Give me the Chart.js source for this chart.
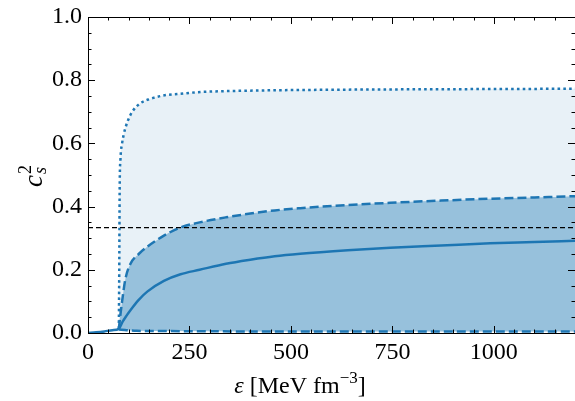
<!DOCTYPE html>
<html>
<head>
<meta charset="utf-8">
<script src="https://cdn.jsdelivr.net/npm/chart.js@4.4.0/dist/chart.umd.min.js"></script>
<style>
  html, body { margin: 0; padding: 0; background: #fff; }
  #wrap { width: 575px; height: 401px; position: relative; }
</style>
</head>
<body>
<div id="wrap"><canvas id="chart"></canvas></div>
<script>
// energy density grid (MeV fm^-3) and squared sound speed for each band edge
const epsMedian = [0, 20, 40, 60, 76, 85, 95, 105, 125, 146, 187, 228, 275, 340, 400, 460, 523, 640, 745, 870, 991, 1100, 1200];
const cs2Median = [0, 0.002, 0.005, 0.009, 0.013, 0.035, 0.055, 0.073, 0.105, 0.131, 0.165, 0.186, 0.2, 0.219, 0.232, 0.243, 0.251, 0.262, 0.27, 0.277, 0.284, 0.288, 0.292];

const epsUpper = [76, 80, 84, 92, 105, 125, 146, 187, 228, 275, 340, 400, 460, 523, 640, 745, 870, 991, 1100, 1200];
const cs2Upper = [0.013, 0.06, 0.1, 0.17, 0.22, 0.25, 0.273, 0.308, 0.334, 0.35, 0.366, 0.378, 0.388, 0.395, 0.405, 0.412, 0.419, 0.425, 0.429, 0.433];

const epsLower = [76, 120, 200, 400, 600, 800, 1000, 1200];
const cs2Lower = [0.011, 0.007, 0.006, 0.005, 0.005, 0.005, 0.005, 0.005];

const epsMax = [76, 77, 78, 80, 84, 88, 92, 97, 109, 129, 154, 183, 228, 270, 400, 523, 770, 1000, 1200];
const cs2Max = [0.013, 0.2, 0.45, 0.55, 0.6, 0.628, 0.648, 0.668, 0.7, 0.727, 0.741, 0.751, 0.757, 0.762, 0.767, 0.769, 0.771, 0.772, 0.773];

const epsConformal = [0, 1200];
const cs2Conformal = [1 / 3, 1 / 3];

const xTicks = [0, 250, 500, 750, 1000];
const yTicks = [0, 0.2, 0.4, 0.6, 0.8, 1.0];

const blue = '#1f77b4';
const serif = '"Liberation Serif", "Times New Roman", serif';

const pts = (xs, ys) => xs.map((x, i) => ({ x: x, y: ys[i] }));

// inward ticks on all four sides, frame, and the math-style axis titles
const axesDecor = {
  id: 'axesDecor',
  afterDraw(chart) {
    const c = chart.ctx, a = chart.chartArea;
    const xs = chart.scales.x, ys = chart.scales.y;
    c.save();
    c.strokeStyle = '#000';
    c.lineWidth = 1;
    c.strokeRect(a.left + 0.5, a.top + 0.5, a.right - a.left, a.bottom - a.top);

    const tick = (x1, y1, x2, y2, w) => {
      c.lineWidth = w;
      c.beginPath(); c.moveTo(x1, y1); c.lineTo(x2, y2); c.stroke();
    };
    for (let v = 0; v <= 1200; v += 50) {
      const px = Math.round(xs.getPixelForValue(v)) + 0.5;
      const len = v % 250 === 0 ? 7 : 3.5;
      tick(px, a.bottom, px, a.bottom - len, 1);
      tick(px, a.top, px, a.top + len, 1);
    }
    for (let k = 0; k <= 20; k++) {
      const v = k * 0.05;
      const py = Math.round(ys.getPixelForValue(v)) + 0.5;
      const len = k % 4 === 0 ? 7 : 3.5;
      tick(a.left, py, a.left + len, py, 1);
      tick(a.right, py, a.right - len, py, 1);
    }

    // x title: ε [MeV fm^-3]
    c.fillStyle = '#000';
    c.textBaseline = 'alphabetic';
    const base = 393;
    const parts = [
      { t: 'ε', f: 'italic 24px ' + serif, dy: 0 },
      { t: ' [MeV fm', f: '24px ' + serif, dy: 0 },
      { t: '−3', f: '17px ' + serif, dy: -10 },
      { t: ']', f: '24px ' + serif, dy: 0 }
    ];
    let total = 0;
    parts.forEach(p => { c.font = p.f; p.w = c.measureText(p.t).width; total += p.w; });
    let x = 300 - total / 2;
    parts.forEach(p => { c.font = p.f; c.fillText(p.t, x, base + p.dy); x += p.w; });

    // y title: c_s^2, rotated
    c.translate(42, 187);
    c.rotate(-Math.PI / 2);
    c.font = 'italic 27px ' + serif;
    const cw = c.measureText('c').width;
    c.fillText('c', 0, 0);
    c.font = '18px ' + serif;
    c.fillText('2', cw + 1, -11);
    c.font = 'italic 18px ' + serif;
    c.fillText('s', cw + 1, 4);
    c.restore();
  }
};

const ctx = document.getElementById('chart').getContext('2d');
new Chart(ctx, {
  type: 'line',
  data: {
    datasets: [
      {
        label: 'lower',
        data: pts(epsLower, cs2Lower),
        borderColor: blue,
        borderWidth: 2.5,
        borderDash: [9, 4],
        fill: false
      },
      {
        label: 'max',
        data: pts(epsMax, cs2Max),
        borderColor: blue,
        borderWidth: 2.5,
        borderDash: [2.6, 3.2],
        backgroundColor: 'rgba(31,119,180,0.1)',
        fill: 0
      },
      {
        label: 'upper',
        data: pts(epsUpper, cs2Upper),
        borderColor: blue,
        borderWidth: 2.5,
        borderDash: [9, 4],
        backgroundColor: 'rgba(31,119,180,0.4)',
        fill: 0
      },
      {
        label: 'median',
        data: pts(epsMedian, cs2Median),
        borderColor: blue,
        borderWidth: 2.5,
        fill: false
      },
      {
        label: 'conformal',
        data: pts(epsConformal, cs2Conformal),
        borderColor: '#000',
        borderWidth: 1.2,
        borderDash: [5, 3],
        fill: false,
        order: -1
      }
    ]
  },
  options: {
    responsive: true,
    maintainAspectRatio: false,
    animation: false,
    layout: { padding: { top: 0, right: 0, left: 0, bottom: 0 } },
    elements: {
      point: { radius: 0 },
      line: { cubicInterpolationMode: 'monotone' }
    },
    plugins: {
      legend: { display: false },
      tooltip: { enabled: false }
    },
    scales: {
      x: {
        type: 'linear',
        min: 0,
        max: 1200,
        grid: { display: false, drawTicks: false },
        border: { display: false },
        afterBuildTicks: s => { s.ticks = xTicks.map(v => ({ value: v })); },
        afterFit: s => { s.height = 68; },
        ticks: {
          padding: 5,
          maxRotation: 0,
          color: '#000',
          font: { family: serif, size: 24 },
          callback: v => String(v)
        }
      },
      y: {
        min: 0,
        max: 1,
        grid: { display: false, drawTicks: false },
        border: { display: false },
        afterBuildTicks: s => { s.ticks = yTicks.map(v => ({ value: v })); },
        afterFit: s => { s.width = 88; s.paddingTop = 17; },
        ticks: {
          padding: 6,
          color: '#000',
          font: { family: serif, size: 24, lineHeight: 1.4 },
          callback: v => v.toFixed(1)
        }
      }
    }
  },
  plugins: [axesDecor]
});
</script>
</body>
</html>
